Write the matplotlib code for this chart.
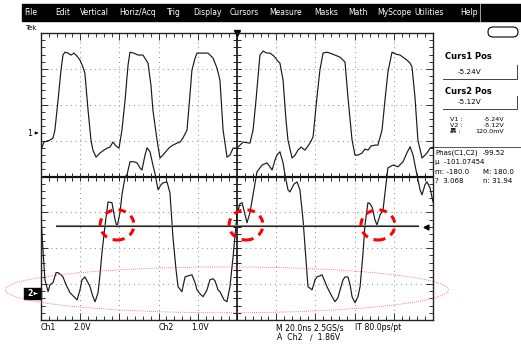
import numpy as np
import matplotlib
matplotlib.use("Agg")
import matplotlib.pyplot as plt
from matplotlib.patches import Ellipse, Rectangle, FancyBboxPatch

plt.rcParams["font.family"] = ["DejaVu Sans", "Noto Sans CJK SC"]

W, H = 521, 347

# --- waveform data (time in ns, amplitude in V) ---
ch1_t = [-100.0, -98.5, -95.4, -93.9, -92.9, -91.3, -89.8, -88.8, -87.8, -86.2, -84.7,
         -83.2, -81.6, -80.1, -78.6, -77.6, -76.0, -74.5, -73.5, -71.9, -69.9, -67.9,
         -66.3, -64.8, -63.3, -61.7, -60.2, -58.7, -57.1, -55.6, -54.6, -52.6, -50.5,
         -48.0, -45.4, -43.9, -42.9, -40.8, -39.3, -37.8, -35.7, -34.2, -32.7, -30.6,
         -29.1, -27.6, -25.5, -24.0, -23.0, -21.4, -20.4, -17.9, -14.8, -12.2, -10.2,
         -8.7, -7.1, -5.1, -3.6, -2.0, 0.0, 3.1, 6.6, 8.2, 9.7, 11.7, 13.3, 15.3, 16.8,
         18.9, 20.4, 21.9, 23.5, 25.0, 26.0, 28.1, 29.6, 31.1, 32.7, 34.7, 36.2, 37.2,
         38.8, 40.8, 42.3, 43.9, 45.9, 47.4, 50.0, 52.6, 55.1, 56.6, 58.7, 60.2, 61.7,
         63.8, 65.3, 66.8, 68.4, 70.4, 71.9, 74.0, 75.5, 77.0, 79.1, 81.1, 83.2, 84.7,
         86.7, 88.3, 89.3, 90.8, 92.3, 94.4, 95.9, 96.9, 98.5, 100.0]
ch1_v = [-0.95, -0.50, -0.39, -0.28, 0.17, 1.84, 3.51, 4.35, 4.51, 4.46, 4.35,
         4.46, 4.29, 4.07, 3.68, 3.34, 1.28, -0.39, -0.95, -1.34, -1.11, -0.95,
         -0.84, -0.78, -0.50, -0.72, -0.84, 0.17, 1.84, 3.79, 4.51, 4.46, 4.35,
         4.35, 3.90, 2.67, 1.28, -0.39, -1.39, -1.23, -0.95, -0.78, -0.67, -0.56,
         -0.50, -0.28, 0.17, 2.12, 3.51, 4.18, 4.46, 4.46, 4.46, 4.18, 3.62,
         2.95, 0.17, -1.34, -1.23, -0.84, -0.84, -0.50, -0.56, 0.17, 1.84, 4.35, 4.57, 4.46, 4.46,
         4.29, 4.07, 3.90, 2.95, 0.72, -0.39, -1.39, -1.23, -0.95, -0.78, -0.95, -0.72, -0.56,
         -0.22, 2.01, 3.51, 4.46, 4.51, 4.46, 4.35, 4.23, 3.96, 2.01, -0.39, -1.23, -1.23,
         -1.11, -0.89, -0.95, -0.72, -0.67, -0.67, 0.17, 1.84, 3.40, 4.51, 4.40, 4.35, 4.23,
         4.07, 3.90, 3.68, 2.01, -0.39, -1.39, -1.23, -1.11, -0.84, -0.78]

ch2_t = [-100.0, -99.0, -98.0, -96.4, -95.4, -93.9, -92.3, -91.3, -89.8, -88.8, -87.2,
         -85.2, -83.2, -81.6, -80.1, -79.1, -77.6, -76.0, -75.0, -73.5, -72.4, -70.9,
         -69.9, -68.9, -67.3, -65.8, -63.8, -62.2, -61.2, -59.7, -58.7, -57.1, -56.1,
         -54.6, -52.6, -51.0, -49.5, -48.5, -46.9, -45.9, -44.4, -42.9, -41.8, -40.3,
         -38.8, -37.8, -35.7, -34.2, -32.7, -31.1, -30.1, -28.1, -26.5, -25.0, -23.0,
         -21.4, -20.4, -18.9, -17.3, -15.3, -13.8, -12.2, -11.2, -9.7, -8.7, -6.6,
         -5.1, -3.6, -2.0, -1.0, 0.0, 1.5, 2.6, 4.1, 5.1, 6.6, 8.2, 10.2, 11.7, 12.8,
         15.3, 16.8, 17.9, 19.4, 20.4, 21.9, 23.5, 24.5, 26.0, 27.0, 29.1, 30.6, 32.1,
         33.7, 35.2, 36.2, 38.3, 39.8, 40.8, 42.3, 43.4, 44.9, 45.9, 48.0, 50.0, 51.5,
         52.6, 54.1, 55.1, 56.6, 57.7, 58.7, 60.2, 61.7, 62.8, 64.3, 65.3, 66.8, 67.9,
         68.9, 70.4, 71.4, 73.0, 74.5, 76.0, 77.0, 79.6, 82.1, 84.7, 86.7, 88.3, 89.8,
         90.8, 91.8, 93.4, 94.4, 95.9, 96.9, 98.5, 100.0]
ch2_v = [2.15, 1.23, 0.39, 0.06, 0.25, 0.31, 0.59, 0.59, 0.53, 0.47, 0.25,
         0.03, -0.08, -0.17, 0.11, 0.39, 0.47, 0.31, 0.20, -0.08, -0.22, 0.03,
         0.53, 1.14, 1.92, 2.56, 2.54, 2.06, 1.87, 2.26, 2.76, 3.26, 3.32,
         3.68, 3.68, 3.65, 3.51, 3.45, 3.87, 4.07, 3.96, 3.59, 3.34, 2.90,
         3.04, 3.09, 3.12, 2.81, 1.59, 0.67, 0.20, 0.06, 0.47, 0.50, 0.53,
         0.31, 0.11, 0.00, -0.08, 0.11, 0.39, 0.42, 0.36, 0.11, 0.06, -0.17,
         -0.22, 0.20, 1.03, 1.64, 2.20, 2.51, 2.54, 2.20, 1.98, 2.26, 2.76, 3.40, 3.51, 3.59,
         3.65, 3.54, 3.45, 3.73, 3.87, 3.96, 3.65, 3.32, 2.90, 2.84, 3.06, 3.12, 2.90,
         2.06, 0.95, 0.20, 0.11, 0.39, 0.47, 0.50, 0.53, 0.33, 0.20, -0.03, -0.22, -0.11,
         0.11, 0.39, 0.47, 0.47, 0.25, -0.08, -0.25, -0.08, 0.20, 1.14, 1.92, 2.54, 2.51,
         2.42, 2.06, 1.92, 2.20, 2.34, 3.04, 3.51, 3.59, 3.54, 3.68, 3.93, 4.10, 3.87,
         3.59, 3.32, 2.90, 2.76, 3.04, 3.12, 2.95, 2.56]

# scope settings
ch1_scale, ch2_scale = 2.0, 1.0          # V/div
ch1_offset, ch2_offset = 1.21, -3.27     # ground marker position, div
trig_level = 1.86                        # V on Ch2
cursor_levels = [1.93, 1.88]             # cursor lines, Ch2 volts
marked_times = [-61.2, 4.6, 71.9]        # red circles, ns

menu_items = ["File", "Edit", "Vertical", "Horiz/Acq", "Trig", "Display", "Cursors",
              "Measure", "Masks", "Math", "MyScope", "Utilities", "Help"]
menu_x = [24, 55, 80, 119, 167, 193, 230, 269, 314, 348, 377, 414, 460]

fig = plt.figure(figsize=(W / 100, H / 100), dpi=100)
fig.patch.set_facecolor("white")

# overlay in pixel coordinates for the screen furniture
ov = fig.add_axes([0, 0, 1, 1])
ov.set_xlim(0, W)
ov.set_ylim(H, 0)
ov.axis("off")

# menu bar
ov.add_patch(Rectangle((22, 4), W - 22, 17, color="black", zorder=1))
ov.plot([480, 480], [4, 21], color="#bbbbbb", lw=0.6, zorder=2)
for name, x in zip(menu_items, menu_x):
    ov.text(x, 12.5, name, color="white", fontsize=5.5, va="center", ha="left", zorder=3)
ov.text(25, 28, "Tek", fontsize=5, va="center", ha="left")
ov.add_patch(FancyBboxPatch((488, 27), 30, 10, boxstyle="round,pad=0,rounding_size=5",
                            fill=False, lw=0.8, ec="black"))

# right side readouts
ov.text(468, 56, "Curs1 Pos", fontsize=6, fontweight="bold", ha="center", va="center")
ov.text(470, 72, "-5.24V", fontsize=5.2, ha="center", va="center")
ov.plot([443, 517, 517], [79, 79, 65], color="#444444", lw=0.7)
ov.text(468, 91, "Curs2 Pos", fontsize=6, fontweight="bold", ha="center", va="center")
ov.text(470, 102, "-5.12V", fontsize=5.2, ha="center", va="center")
ov.plot([443, 517, 517], [109, 109, 96], color="#444444", lw=0.7)
for y, lab, val in [(119, "V1 :", "-5.24V"), (125, "V2 :", "-5.12V"), (131, "婁 :", "120.0mV")]:
    ov.text(450, y, lab, fontsize=4.6, ha="left", va="center")
    ov.text(504, y, val, fontsize=4.6, ha="right", va="center")
ov.plot([433, W], [147, 147], color="#555555", lw=0.7)
ov.text(435, 153, "Phas(C1,C2)", fontsize=5, ha="left", va="center")
ov.text(483, 153, "-99.52", fontsize=5, ha="left", va="center")
ov.text(435, 162, "\u03bc  -101.07454", fontsize=5, ha="left", va="center")
ov.text(435, 172, "m: -180.0", fontsize=5, ha="left", va="center")
ov.text(483, 172, "M: 180.0", fontsize=5, ha="left", va="center")
ov.text(435, 181, "?  3.068", fontsize=5, ha="left", va="center")
ov.text(483, 181, "n: 31.94", fontsize=5, ha="left", va="center", clip_on=True)

# bottom readouts
ov.text(41, 328, "Ch1", fontsize=5.6, ha="left", va="center")
ov.text(73, 328, "2.0V", fontsize=5.6, ha="left", va="center")
ov.text(159, 328, "Ch2", fontsize=5.6, ha="left", va="center")
ov.text(191, 328, "1.0V", fontsize=5.6, ha="left", va="center")
ov.text(276, 328, "M 20.0ns 2.5GS/s", fontsize=5.6, ha="left", va="center")
ov.text(355, 328, "IT 80.0ps/pt", fontsize=5.6, ha="left", va="center")
ov.text(277, 337, "A  Ch2   \u2215  1.86V", fontsize=5.6, ha="left", va="center")

# graticule
gx0, gx1, gy0, gy1 = 41, 433, 33, 320
ax = fig.add_axes([gx0 / W, 1 - gy1 / H, (gx1 - gx0) / W, (gy1 - gy0) / H])
ax.set_xlim(-100, 100)
ax.set_ylim(-4, 4)
ax.set_facecolor("none")
ax.set_xticks(np.arange(-100, 101, 20))
ax.set_xticks(np.arange(-100, 101, 4), minor=True)
ax.set_yticks(np.arange(-4, 5, 1))
ax.set_yticks(np.arange(-4, 4.01, 0.2), minor=True)
ax.tick_params(which="both", direction="in", top=True, right=True,
               labelbottom=False, labelleft=False, color="#333333", width=0.7)
ax.tick_params(which="major", length=5)
ax.tick_params(which="minor", length=3)
ax.grid(True, which="major", color="#888888", linestyle=(0, (1, 4)), lw=0.7)
for sp in ax.spines.values():
    sp.set_linewidth(1.0)
    sp.set_color("#222222")
ax.axhline(0, color="#111111", lw=1.6)
ax.axvline(0, color="#111111", lw=1.2)
ax.plot(np.arange(-100, 101, 4), np.zeros(51), ls="none", marker="|", ms=6,
        color="#222222", mew=0.7)
ax.plot(np.zeros(41), np.arange(-4, 4.01, 0.2), ls="none", marker="_", ms=6,
        color="#222222", mew=0.7)
ax.plot([0], [4], marker="v", ms=4, color="black", clip_on=False)

# channel axes sharing the graticule
a1 = fig.add_axes(ax.get_position(), sharex=ax)
a1.set_ylim((-4 - ch1_offset) * ch1_scale, (4 - ch1_offset) * ch1_scale)
a1.axis("off")
a1.plot(ch1_t, ch1_v, color="#1a1a1a", lw=0.85)

a2 = fig.add_axes(ax.get_position(), sharex=ax)
a2.set_ylim((-4 - ch2_offset) * ch2_scale, (4 - ch2_offset) * ch2_scale)
a2.axis("off")
a2.plot(ch2_t, ch2_v, color="#1a1a1a", lw=0.85)

# cursors and trigger level
a2.axhline(cursor_levels[0], xmin=0.038, xmax=0.962, color="#888888", lw=0.8)
a2.axhline(cursor_levels[1], xmin=0.038, xmax=0.962, color="#222222", lw=0.8)
a2.plot([96.5], [trig_level], marker="<", ms=3.5, color="black")

# markers for channel ground
ov.text(30, 133, "1", fontsize=5.6, ha="center", va="center")
ov.annotate("", xy=(41, 133), xytext=(34, 133),
            arrowprops=dict(arrowstyle="-|>", lw=0.6, color="black", mutation_scale=4))
ov.add_patch(Rectangle((24, 288), 17, 11, color="black"))
ov.text(30, 293.5, "2", color="white", fontsize=5.6, ha="center", va="center",
        fontweight="bold")
ov.annotate("", xy=(40, 293.5), xytext=(34, 293.5),
            arrowprops=dict(arrowstyle="-|>", lw=0.6, color="white", mutation_scale=4))

# red annotations
for t in marked_times:
    a2.add_patch(Ellipse((t, 1.92), 17.3, 0.84, fill=False, ec="red", lw=2.2,
                         ls=(0, (2.5, 2)), zorder=5))
a2.add_patch(Ellipse((-5.1, 0.11), 226, 1.28, fill=False, ec="#ff5050", lw=0.6,
                     ls=(0, (1, 1.5)), clip_on=False, zorder=5))

fig.savefig("out.png", dpi=100)
